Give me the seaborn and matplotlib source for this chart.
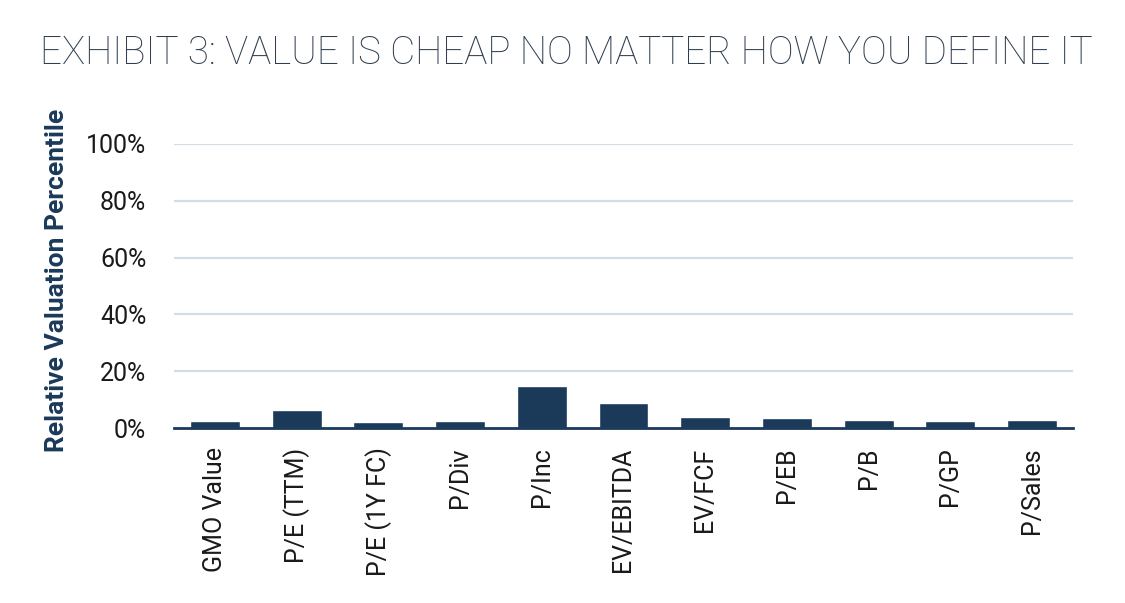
import matplotlib
matplotlib.use("Agg")
import matplotlib.pyplot as plt
import seaborn as sns
import pandas as pd

# --- data ---
categories = ["GMO Value", "P/E (TTM)", "P/E (1Y FC)", "P/Div", "P/Inc", "EV/EBITDA",
              "EV/FCF", "P/EB", "P/B", "P/GP", "P/Sales"]
percentile = [0.025, 0.062, 0.022, 0.024, 0.148, 0.089, 0.040, 0.034, 0.028, 0.024, 0.028]
y_ticks = [0, 0.2, 0.4, 0.6, 0.8, 1.0]
y_tick_labels = ["0%", "20%", "40%", "60%", "80%", "100%"]

bar_color = "#1b3a5a"
grid_color = "#d3dde6"
title_color = "#2e3d4f"

sns.set_theme(style="white")
plt.rcParams["font.family"] = ["Roboto", "DejaVu Sans"]

df = pd.DataFrame({"metric": categories, "value": percentile})

fig = plt.figure(figsize=(11.25, 6.03), dpi=100)
ax = fig.add_axes([0.1547, 0.2902, 0.799, 0.471])

sns.barplot(data=df, x="metric", y="value", color=bar_color, saturation=1,
            width=0.61, ax=ax)

ax.set_ylim(0, 1.0)
ax.set_xlim(-0.5, len(categories) - 0.5)
ax.set_yticks(y_ticks)
ax.set_yticklabels(y_tick_labels, fontsize=18, color="#1a1a1a")
ax.set_xticks(range(len(categories)))
ax.set_xticklabels(categories, rotation=90, fontsize=18, color="#1a1a1a")
ax.tick_params(axis="both", length=0)
ax.tick_params(axis="y", pad=20)
ax.tick_params(axis="x", pad=14)

# light horizontal gridlines above zero
for y in y_ticks[1:]:
    ax.axhline(y, color=grid_color, lw=1.6, zorder=0)

for s in ["top", "right", "left"]:
    ax.spines[s].set_visible(False)
ax.spines["bottom"].set_color(bar_color)
ax.spines["bottom"].set_linewidth(2)

ax.set_xlabel("")
ax.set_ylabel("Relative Valuation Percentile", fontsize=19, fontweight="bold",
              color=bar_color)
ax.yaxis.set_label_coords(-0.117, 0.52)

fig.text(0.036, 0.912, "EXHIBIT 3: VALUE IS CHEAP NO MATTER HOW YOU DEFINE IT",
         fontsize=27.8, fontweight="light", color=title_color, ha="left", va="center")

fig.savefig("out.png", dpi=100, facecolor="white")
